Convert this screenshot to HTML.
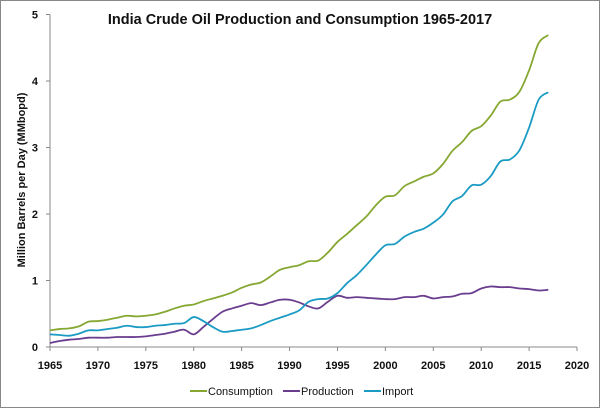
<!DOCTYPE html>
<html><head><meta charset="utf-8"><style>
body{margin:0;background:#fff}
svg{display:block;font-family:"Liberation Sans",sans-serif}
</style></head><body>
<svg id="chart" width="600" height="408" viewBox="0 0 600 408">
<rect x="0.5" y="0.5" width="599" height="407" fill="#fff" stroke="#888"/>
<text x="300" y="24" text-anchor="middle" font-size="14.5" font-weight="bold" fill="#111">India Crude Oil Production and Consumption 1965-2017</text>
<text transform="translate(25,180) rotate(-90)" text-anchor="middle" font-size="11" font-weight="bold" fill="#111">Million  Barrels per Day (MMbopd)</text>
<g id="axes"></g><g id="series"></g>
<g>
<line x1="190" y1="391" x2="207" y2="391" stroke="#86a833" stroke-width="2"/><text x="208" y="395" font-size="11" fill="#111">Consumption</text>
<line x1="283" y1="391" x2="300" y2="391" stroke="#6a3d8f" stroke-width="2"/><text x="301" y="395" font-size="11" fill="#111">Production</text>
<line x1="364" y1="391" x2="381" y2="391" stroke="#1b9bc3" stroke-width="2"/><text x="382" y="395" font-size="11" fill="#111">Import</text>
</g>
</svg>
<script>
const years=[];for(let y=1965;y<=2017;y++)years.push(y);
const consumption=[.25,.27,.28,.31,.38,.39,.41,.44,.47,.46,.47,.49,.53,.58,.62,.64,.69,.73,.77,.82,.89,.94,.97,1.06,1.16,1.20,1.23,1.29,1.30,1.42,1.58,1.70,1.83,1.96,2.13,2.26,2.28,2.42,2.49,2.56,2.61,2.75,2.95,3.08,3.25,3.32,3.48,3.69,3.72,3.84,4.16,4.57,4.69];
const production=[.06,.09,.11,.12,.14,.14,.14,.15,.15,.15,.16,.18,.20,.23,.26,.19,.30,.42,.53,.58,.62,.66,.63,.67,.71,.71,.67,.61,.58,.68,.77,.74,.75,.74,.73,.72,.72,.75,.75,.77,.73,.75,.76,.80,.81,.88,.91,.90,.90,.88,.87,.85,.86];
const imports=[.19,.18,.17,.20,.25,.25,.27,.29,.32,.30,.30,.32,.33,.35,.36,.45,.39,.30,.23,.24,.26,.28,.33,.39,.44,.49,.55,.68,.72,.73,.81,.96,1.08,1.23,1.39,1.53,1.55,1.66,1.73,1.78,1.87,1.99,2.19,2.27,2.43,2.44,2.57,2.79,2.82,2.96,3.30,3.72,3.83];
const xTicks=[1965,1970,1975,1980,1985,1990,1995,2000,2005,2010,2015,2020];
const yTicks=[0,1,2,3,4,5];
const NS="http://www.w3.org/2000/svg";
const X0=50,X1=577,Y0=347,Y1=14.5;
const xs=v=>X0+(v-1965)/(2020-1965)*(X1-X0);
const ys=v=>Y0-v/5*(Y0-Y1);
const ax=document.getElementById('axes');
function mk(t,a,p){const e=document.createElementNS(NS,t);for(const k in a)e.setAttribute(k,a[k]);p.appendChild(e);return e;}
let e=mk('line',{x1:X0,y1:Y0,x2:X1,y2:Y0,stroke:'#888'},ax);


e=mk('line',{x1:X0,y1:Y0,x2:X0,y2:Y1,stroke:'#888'},ax);


xTicks.forEach(t=>{mk('line',{x1:xs(t),y1:Y0,x2:xs(t),y2:Y0+4,stroke:'#888'},ax);
const tx=mk('text',{x:xs(t),y:Y0+22,'text-anchor':'middle','font-size':11,'font-weight':'bold',fill:'#111'},ax);tx.textContent=t;

});
yTicks.forEach(t=>{mk('line',{x1:X0-4,y1:ys(t),x2:X0,y2:ys(t),stroke:'#888'},ax);
const tx=mk('text',{x:X0-12,y:ys(t)+4,'text-anchor':'end','font-size':11,'font-weight':'bold',fill:'#111'},ax);tx.textContent=t;

});
function path(vals){const p=vals.map((v,i)=>[xs(years[i]),ys(v)]);let d='M'+p[0];
for(let i=0;i<p.length-1;i++){const a=p[Math.max(0,i-1)],b=p[i],c=p[i+1],f=p[Math.min(p.length-1,i+2)];
d+=' C'+(b[0]+(c[0]-a[0])/6)+','+(b[1]+(c[1]-a[1])/6)+' '+(c[0]-(f[0]-b[0])/6)+','+(c[1]-(f[1]-b[1])/6)+' '+c[0]+','+c[1];}return d;}
const sg=document.getElementById('series');
let l=mk('path',{d:path(consumption),fill:'none',stroke:'#86a833','stroke-width':1.8},sg);


l=mk('path',{d:path(production),fill:'none',stroke:'#6a3d8f','stroke-width':1.8},sg);


l=mk('path',{d:path(imports),fill:'none',stroke:'#1b9bc3','stroke-width':1.8},sg);


</script>
</body></html>
